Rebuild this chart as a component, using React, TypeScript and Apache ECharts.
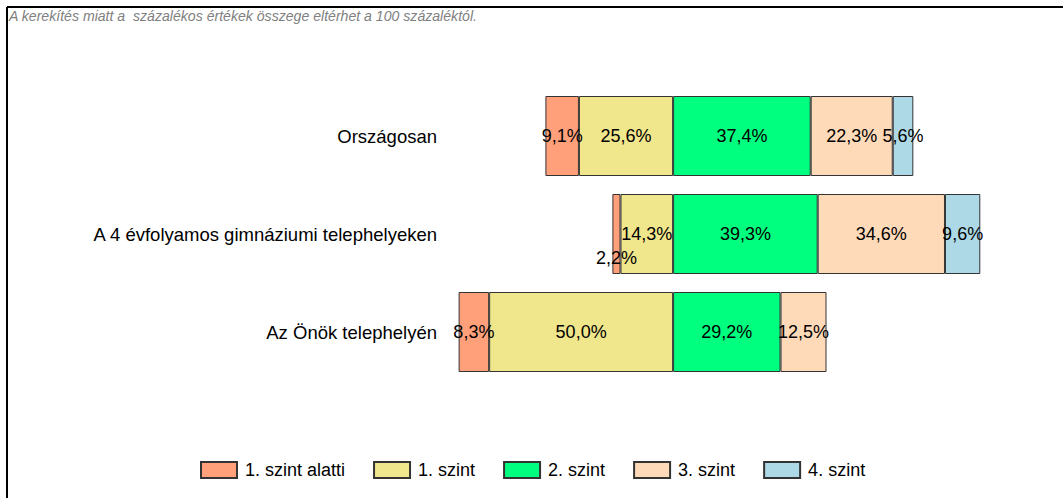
import React, { useEffect, useRef } from "react";
import * as echarts from "echarts";

const categories = [
  "Országosan",
  "A 4 évfolyamos gimnáziumi telephelyeken",
  "Az Önök telephelyén",
];
const below1 = [9.1, 2.2, 8.3];
const level1 = [25.6, 14.3, 50.0];
const level2 = [37.4, 39.3, 29.2];
const level3 = [22.3, 34.6, 12.5];
const level4 = [5.6, 9.6, 0];

const seriesNames = ["1. szint alatti", "1. szint", "2. szint", "3. szint", "4. szint"];
const colors = ["#FFA07A", "#F0E68C", "#00FF7F", "#FFDAB9", "#ADD8E6"];
const note = "A kerekítés miatt a  százalékos értékek összege eltérhet a 100 százaléktól.";

const FONT = "'Liberation Sans', Arial, sans-serif";

const fmt = (p: any) => {
  const v = Math.abs(Number(p.value));
  if (!v) return "";
  return v.toFixed(1).replace(".", ",") + "%";
};

export default function App() {
  const ref = useRef<HTMLDivElement>(null);
  useEffect(() => {
    if (!ref.current) return;
    const chart = echarts.init(ref.current, null, { renderer: "svg" });
    const mk = (name: string, color: string, data: any[]) => ({
      name,
      type: "bar",
      stack: "total",
      barWidth: 80,
      data,
      itemStyle: { color, borderColor: "#333333", borderWidth: 1 },
      label: {
        show: true,
        position: "inside",
        formatter: fmt,
        color: "#000",
        fontSize: 18,
        fontFamily: FONT,
      },
    });
    const option: any = {
      animation: false,
      backgroundColor: "#ffffff",
      textStyle: { fontFamily: FONT },
      grid: { left: 445, right: 22, top: 87, bottom: 117, containLabel: false },
      xAxis: {
        type: "value",
        min: -62,
        max: 100,
        show: false,
      },
      yAxis: {
        type: "category",
        data: categories,
        inverse: true,
        axisLine: { show: false },
        axisTick: { show: false },
        axisLabel: { color: "#000", fontSize: 18.5, fontFamily: FONT, margin: 8 },
      },
      legend: {
        data: seriesNames,
        left: 195,
        top: 456,
        itemWidth: 36,
        itemHeight: 16,
        itemGap: 28,
        icon: "rect",
        textStyle: { color: "#000", fontSize: 18, fontFamily: FONT, padding: [0, 0, 0, 3] },
      },
      graphic: [
        {
          type: "line",
          shape: { x1: 7, y1: 7, x2: 1063, y2: 7 },
          style: { stroke: "#000", lineWidth: 2 },
        },
        {
          type: "line",
          shape: { x1: 7, y1: 7, x2: 7, y2: 498 },
          style: { stroke: "#000", lineWidth: 2 },
        },
        {
          type: "text",
          x: 9,
          y: 16,
          style: {
            text: note,
            fill: "#808080",
            font: "italic 14.1px " + FONT,
            verticalAlign: "middle",
          },
        },
      ],
      series: [
        mk(seriesNames[1], colors[1], level1.map((v) => -v)),
        mk(
          seriesNames[0],
          colors[0],
          below1.map((v, i) => (i === 1 ? { value: -v, label: { offset: [0, 24] } } : -v))
        ),
        mk(seriesNames[2], colors[2], level2),
        mk(seriesNames[3], colors[3], level3),
        mk(seriesNames[4], colors[4], level4.map((v) => (v ? v : "-"))),
      ],
    };
    chart.setOption(option);
    return () => chart.dispose();
  }, []);
  return (
    <div
      ref={ref}
      style={{ position: "absolute", left: 0, top: 0, width: 1063, height: 498 }}
    />
  );
}
